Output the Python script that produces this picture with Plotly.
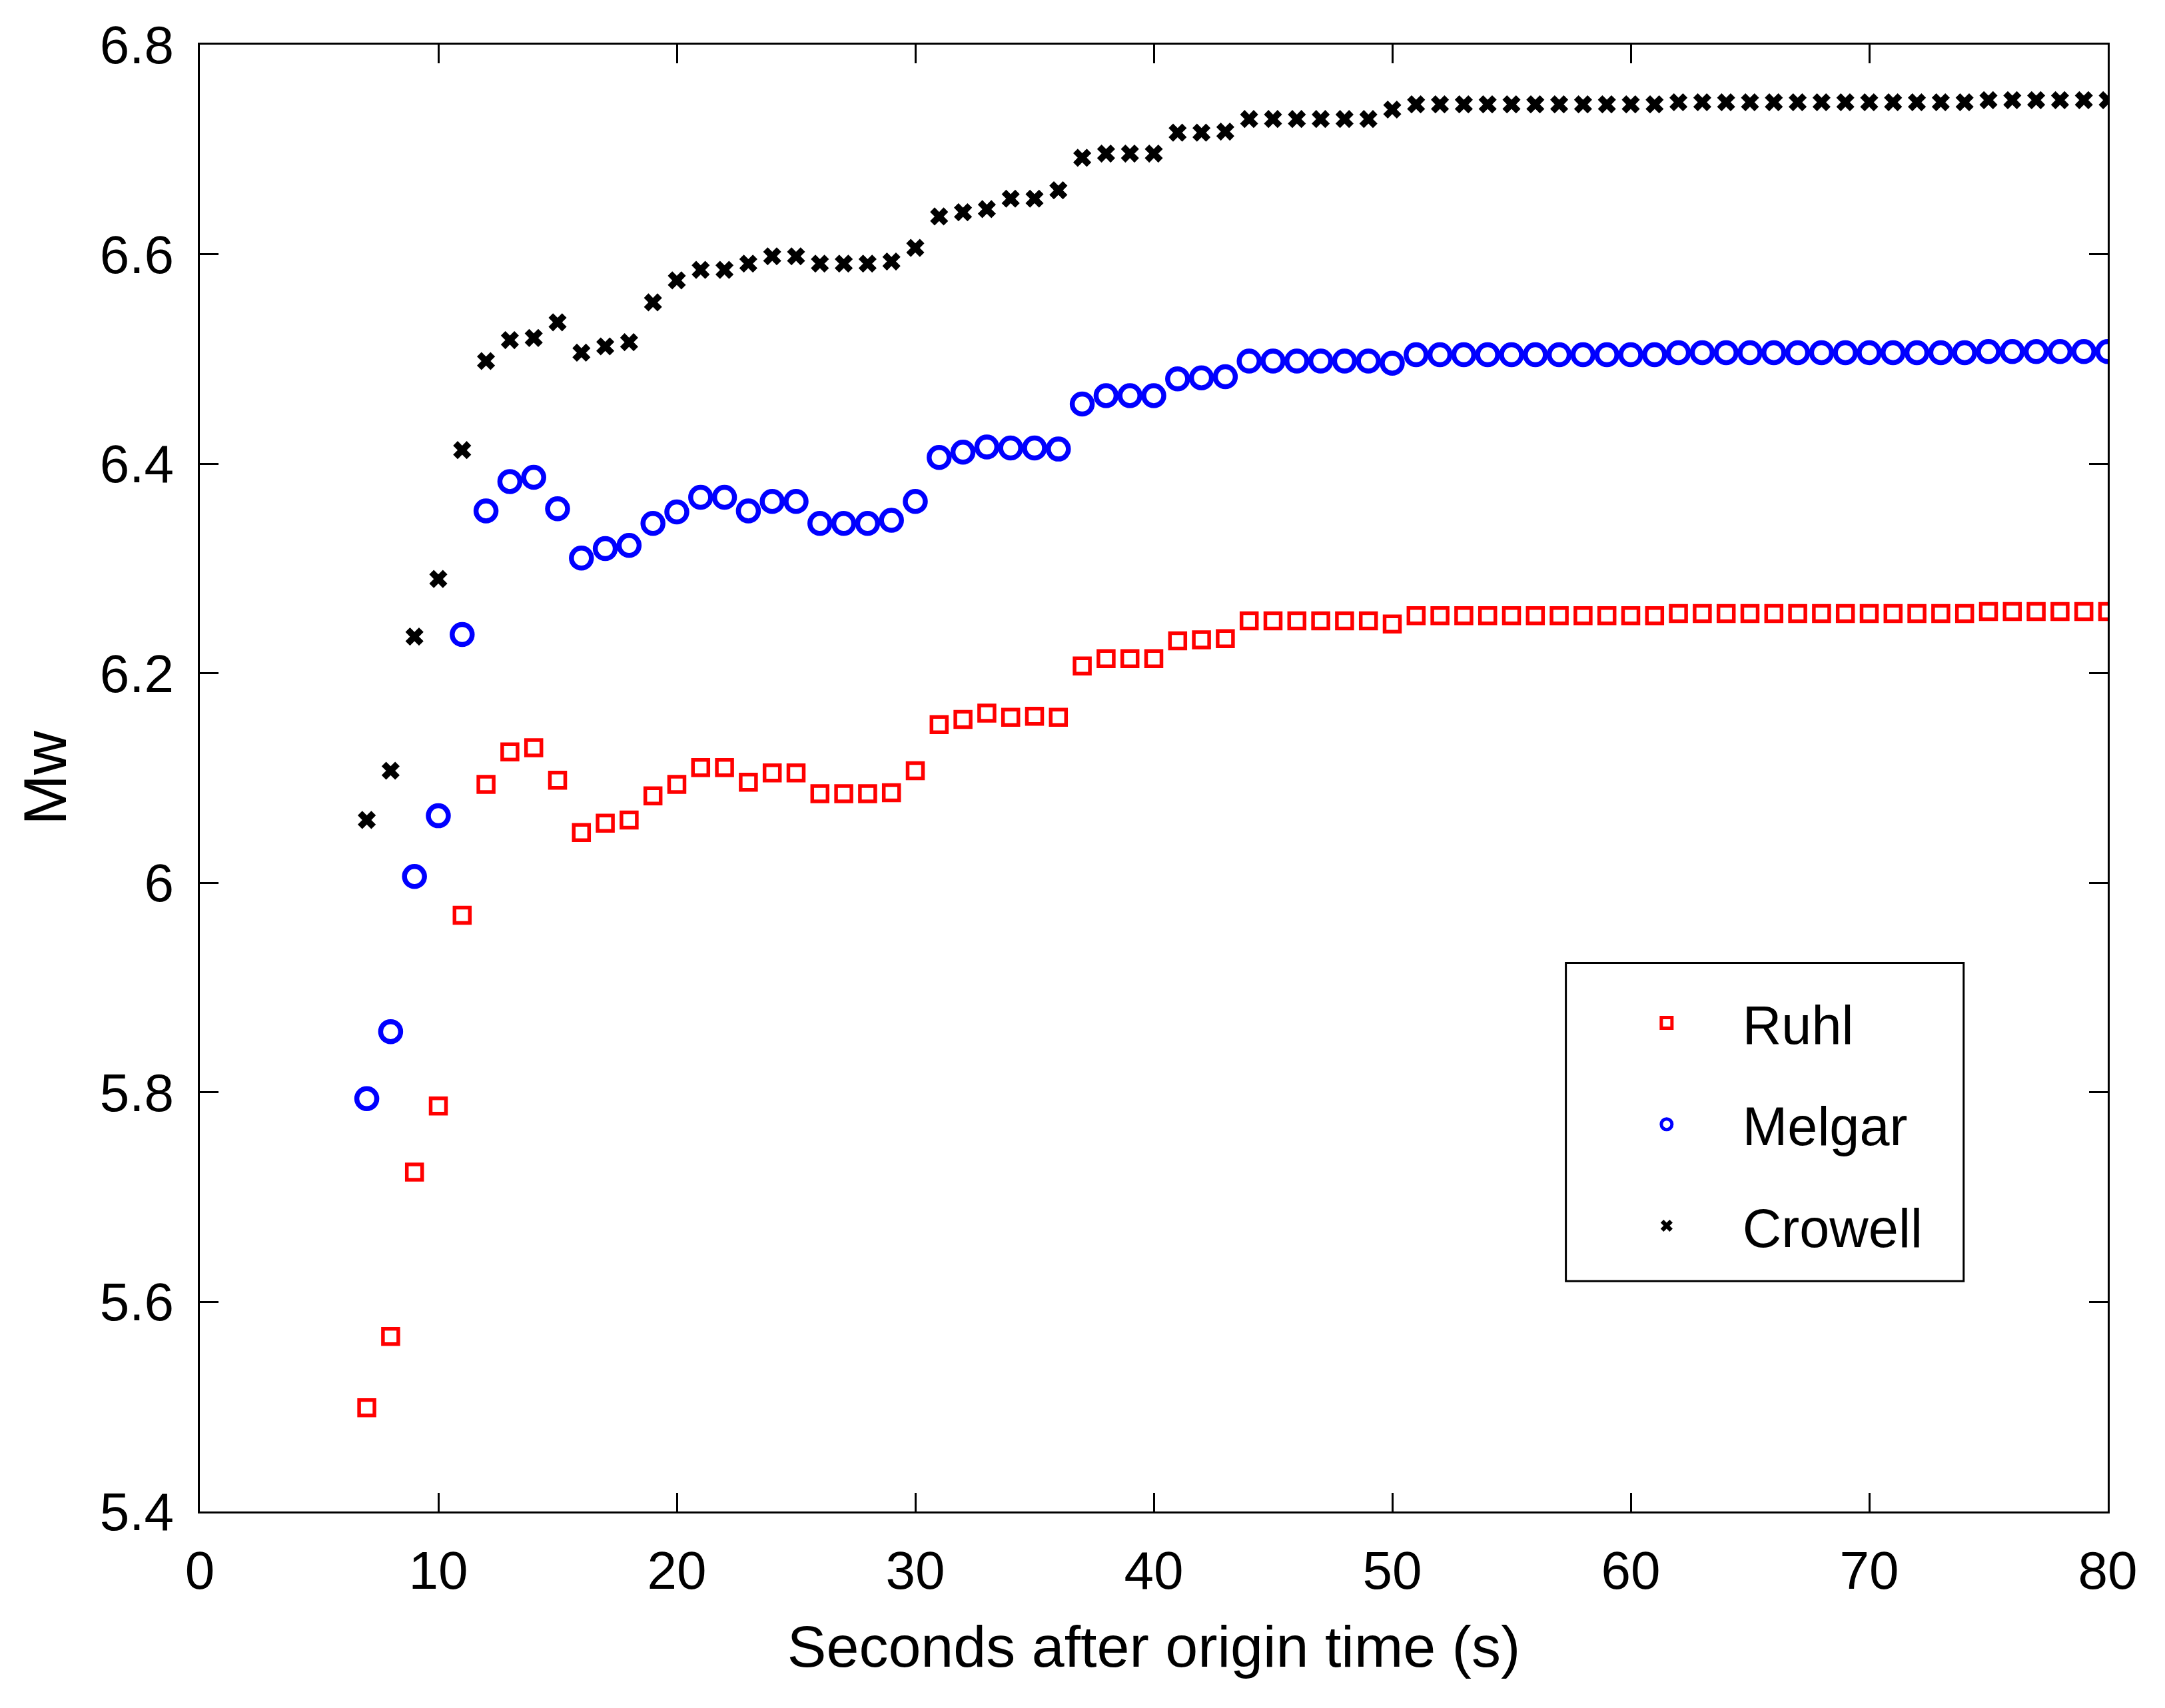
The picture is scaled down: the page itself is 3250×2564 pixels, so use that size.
import plotly.graph_objects as go

seconds = list(range(7, 81))

ruhl = [5.499, 5.567, 5.724, 5.787, 5.969, 6.094, 6.125, 6.129, 6.098, 6.048,
        6.057, 6.060, 6.083, 6.094, 6.110, 6.110, 6.096, 6.105, 6.105, 6.085,
        6.085, 6.085, 6.086, 6.107, 6.151, 6.156, 6.162, 6.158, 6.159, 6.158,
        6.207, 6.214, 6.214, 6.214, 6.231, 6.232, 6.233, 6.250, 6.250, 6.250,
        6.250, 6.250, 6.250, 6.247, 6.255, 6.255, 6.255, 6.255, 6.255, 6.255,
        6.255, 6.255, 6.255, 6.255, 6.255, 6.257, 6.257, 6.257, 6.257, 6.257,
        6.257, 6.257, 6.257, 6.257, 6.257, 6.257, 6.257, 6.257, 6.259, 6.259,
        6.259, 6.259, 6.259, 6.259]

melgar = [5.794, 5.858, 6.006, 6.064, 6.237, 6.355, 6.383, 6.387, 6.357, 6.310,
          6.319, 6.322, 6.343, 6.354, 6.368, 6.368, 6.355, 6.364, 6.364, 6.343,
          6.343, 6.343, 6.346, 6.364, 6.406, 6.411, 6.416, 6.415, 6.415, 6.414,
          6.457, 6.465, 6.465, 6.465, 6.481, 6.482, 6.483, 6.498, 6.498, 6.498,
          6.498, 6.498, 6.498, 6.496, 6.504, 6.504, 6.504, 6.504, 6.504, 6.504,
          6.504, 6.504, 6.504, 6.504, 6.504, 6.506, 6.506, 6.506, 6.506, 6.506,
          6.506, 6.506, 6.506, 6.506, 6.506, 6.506, 6.506, 6.506, 6.507, 6.507,
          6.507, 6.507, 6.507, 6.507]

crowell = [6.060, 6.107, 6.235, 6.290, 6.413, 6.498, 6.518, 6.520, 6.535, 6.506,
           6.512, 6.516, 6.554, 6.575, 6.585, 6.585, 6.591, 6.598, 6.598, 6.591,
           6.591, 6.591, 6.593, 6.606, 6.636, 6.640, 6.643, 6.653, 6.653, 6.661,
           6.692, 6.696, 6.696, 6.696, 6.716, 6.716, 6.717, 6.729, 6.729, 6.729,
           6.729, 6.729, 6.729, 6.738, 6.743, 6.743, 6.743, 6.743, 6.743, 6.743,
           6.743, 6.743, 6.743, 6.743, 6.743, 6.745, 6.745, 6.745, 6.745, 6.745,
           6.745, 6.745, 6.745, 6.745, 6.745, 6.745, 6.745, 6.745, 6.747, 6.747,
           6.747, 6.747, 6.747, 6.747]

x_ticks = [0, 10, 20, 30, 40, 50, 60, 70, 80]
y_ticks = [5.4, 5.6, 5.8, 6.0, 6.2, 6.4, 6.6, 6.8]
y_tick_labels = ["5.4", "5.6", "5.8", "6", "6.2", "6.4", "6.6", "6.8"]

FONT = "Liberation Sans, Arial, sans-serif"

fig = go.Figure()
fig.add_trace(go.Scatter(
    x=seconds, y=ruhl, mode="markers", name="Ruhl", legendgroup="a",
    marker=dict(symbol="square-open", size=23, color="#ff0000",
                line=dict(width=5.5, color="#ff0000"))))
fig.add_trace(go.Scatter(
    x=seconds, y=melgar, mode="markers", name="Melgar", legendgroup="b",
    marker=dict(symbol="circle-open", size=30, color="#0000ff",
                line=dict(width=7.5, color="#0000ff"))))
fig.add_trace(go.Scatter(
    x=seconds, y=crowell, mode="markers", name="Crowell", legendgroup="c",
    marker=dict(symbol="x", size=24, color="#000000",
                line=dict(width=0))))

axis_common = dict(
    showgrid=False, zeroline=False,
    showline=True, linecolor="black", linewidth=3,
    mirror="ticks", ticks="inside", ticklen=28, tickwidth=3, tickcolor="black",
    tickfont=dict(family=FONT, size=80, color="black"),
)

fig.update_xaxes(
    range=[0, 80], tickvals=x_ticks, ticktext=[str(v) for v in x_ticks],
    ticklabelstandoff=17,
    title=dict(text="Seconds after origin time (s)",
               font=dict(family=FONT, size=88, color="black"), standoff=40),
    **axis_common)
fig.update_yaxes(
    range=[5.4, 6.8], tickvals=y_ticks, ticktext=y_tick_labels,
    ticklabelstandoff=20,
    title=dict(text="Mw", font=dict(family=FONT, size=91, color="black"), standoff=20),
    **axis_common)

# legend frame
fig.add_shape(type="rect", xref="paper", yref="paper",
              x0=0.716, x1=0.9245, y0=0.157, y1=0.374,
              line=dict(color="black", width=3), fillcolor="rgba(0,0,0,0)")

fig.update_layout(
    width=3250, height=2564,
    margin=dict(l=292, r=94, t=59, b=303),
    paper_bgcolor="white", plot_bgcolor="white",
    font=dict(family=FONT, color="black"),
    showlegend=True,
    legend=dict(x=0.729, y=0.36, xanchor="left", yanchor="top",
                bgcolor="rgba(0,0,0,0)", borderwidth=0,
                font=dict(family=FONT, size=81, color="black"),
                itemwidth=218, traceorder="grouped", tracegroupgap=44),
)

fig.write_html("out.html")
